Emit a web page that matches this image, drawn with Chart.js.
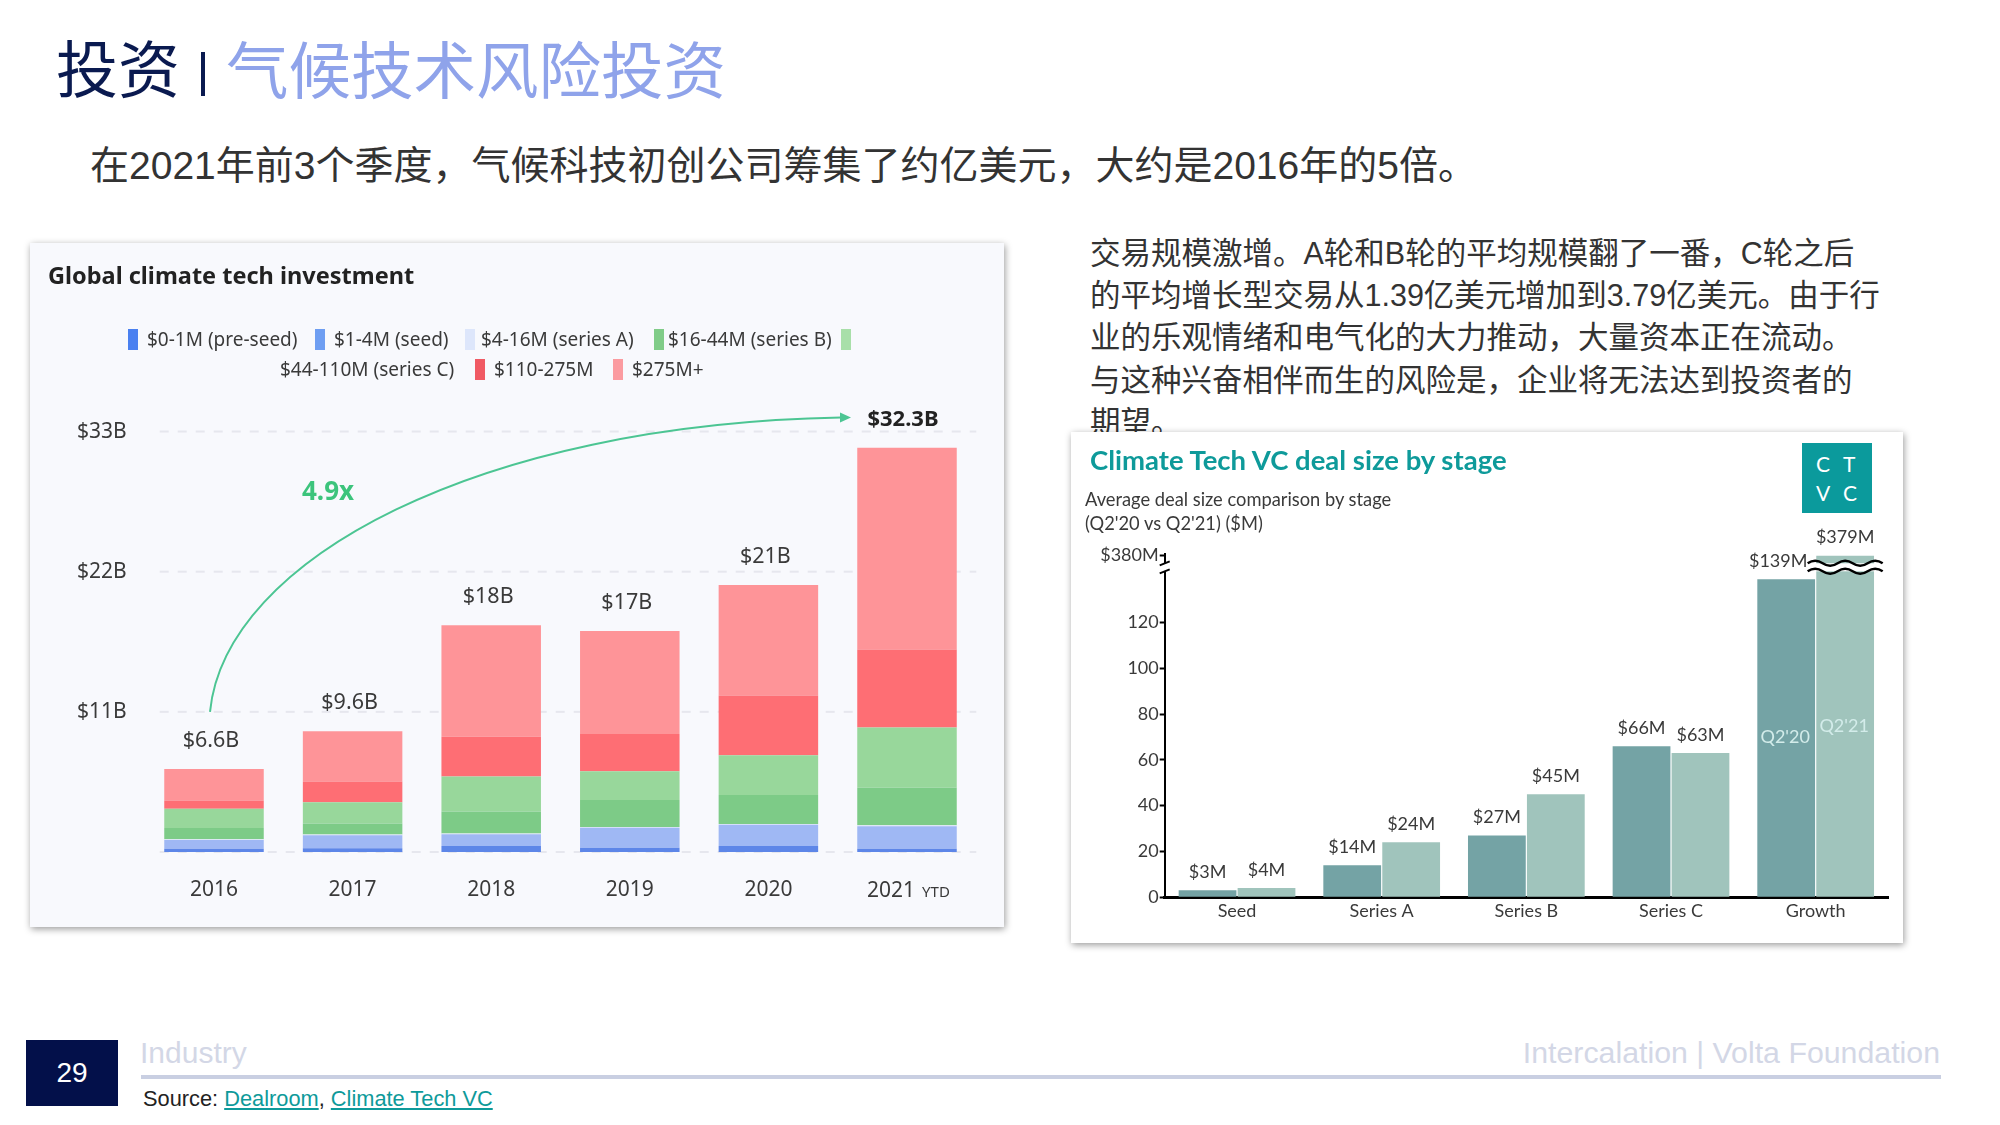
<!DOCTYPE html>
<html lang="zh">
<head>
<meta charset="utf-8">
<title>气候技术风险投资</title>
<script src="https://cdn.jsdelivr.net/npm/chart.js@4"></script>
<style>
  html, body { margin: 0; padding: 0; background: #fff; }
  body { position: relative; width: 2000px; height: 1125px; overflow: hidden; font-family: "Liberation Sans", "Noto Sans CJK SC", sans-serif; }
  .abs { position: absolute; white-space: nowrap; line-height: 1; }
  canvas { position: absolute; left: 0; top: 0; }
  #panelLeft, #panelRight { position: absolute; box-shadow: 1px 2px 7px rgba(0, 0, 0, .4); }
  #panelLeft { left: 30px; top: 243px; width: 974px; height: 684px; background: #f8f9fd; font-family: "Noto Sans", sans-serif; color: #3a3a3a; }
  #panelRight { left: 1071px; top: 432px; width: 832px; height: 511px; background: #fff; font-family: Lato, sans-serif; color: #3a3a3a; }
  .swatch { position: absolute; width: 10px; height: 21px; }
  .legendText { font-size: 19px; }
  #logo { position: absolute; left: 731px; top: 11px; width: 70px; height: 70px; background: #0b9a9c; color: #fff; font-size: 21px; }
  #sideText div { height: 42.2px; line-height: 42.2px; }
</style>
</head>
<body>
  <div class="abs" style="left:56px;top:41px;font-size:62px;color:#0a1a50">投资</div>
  <div class="abs" style="left:201px;top:52px;width:4px;height:44px;background:#0a1a50"></div>
  <div class="abs" style="left:226px;top:41px;font-size:62.5px;color:#8fa3ea">气候技术风险投资</div>
  <div class="abs" style="left:90px;top:146px;font-size:39px;color:#333">在2021年前3个季度，气候科技初创公司筹集了约亿美元，大约是2016年的5倍。</div>

  <div id="sideText" class="abs" style="left:1090px;top:232px;font-size:30.5px;color:#333">
    <div>交易规模激增。A轮和B轮的平均规模翻了一番，C轮之后</div>
    <div>的平均增长型交易从1.39亿美元增加到3.79亿美元。由于行</div>
    <div>业的乐观情绪和电气化的大力推动，大量资本正在流动。</div>
    <div>与这种兴奋相伴而生的风险是，企业将无法达到投资者的</div>
    <div>期望。</div>
  </div>

  <div id="panelLeft">
    <canvas id="investChart" width="974" height="684"></canvas>
    <div class="abs" style="left:18px;top:21px;font-size:23.5px;font-weight:700;color:#222">Global climate tech investment</div>
    <div id="legendBox"></div>
  </div>

  <div id="panelRight">
    <canvas id="dealChart" width="832" height="511"></canvas>
    <div class="abs" style="left:19px;top:14px;font-size:27.5px;font-weight:700;color:#0e9a9a">Climate Tech VC deal size by stage</div>
    <div class="abs" style="left:14px;top:58px;font-size:18.3px">Average deal size comparison by stage</div>
    <div class="abs" style="left:14px;top:82px;font-size:18.3px">(Q2'20 vs Q2'21) ($M)</div>
    <div id="logo">
      <span class="abs" style="left:14px;top:10px">C</span><span class="abs" style="left:41px;top:10px">T</span>
      <span class="abs" style="left:14px;top:39px">V</span><span class="abs" style="left:41px;top:39px">C</span>
    </div>
  </div>

  <div class="abs" style="left:26px;top:1040px;width:92px;height:66px;background:#03104a;color:#fff;font-size:28px;line-height:66px;text-align:center">29</div>
  <div class="abs" style="left:140px;top:1038px;font-size:30px;color:#d3d7e6">Industry</div>
  <div class="abs" style="right:60px;top:1038px;font-size:30.3px;color:#d3d7e6">Intercalation | Volta Foundation</div>
  <div class="abs" style="left:141px;top:1075px;width:1800px;height:4px;background:#c9cfe2"></div>
  <div class="abs" style="left:143px;top:1088px;font-size:21.8px;color:#222">Source: <span style="color:#0e9a9a;text-decoration:underline">Dealroom</span>, <span style="color:#0e9a9a;text-decoration:underline">Climate Tech VC</span></div>

<script>
// Left chart: yearly investment by round size, $B
const years = ['2016', '2017', '2018', '2019', '2020', '2021'];
const totalLabels = ['$6.6B', '$9.6B', '$18B', '$17B', '$21B', '$32.3B'];
const yearTicks = [11, 22, 33];
const preSeed = [0.25, 0.29, 0.47, 0.33, 0.47, 0.25];
const seed = [0.70, 1.02, 0.92, 1.57, 1.67, 1.78];
const seriesA = [0.06, 0.06, 0.06, 0.06, 0.06, 0.06];
const seriesB = [0.87, 0.87, 1.73, 2.13, 2.28, 2.96];
const seriesC = [1.52, 1.66, 2.75, 2.24, 3.11, 4.73];
const series110 = [0.65, 1.63, 3.11, 2.93, 4.70, 6.11];
const series275 = [2.46, 3.94, 8.75, 8.09, 8.67, 15.83];

// Right chart: average deal size by stage, $M
const stages = ['Seed', 'Series A', 'Series B', 'Series C', 'Growth'];
const q220 = [3, 14, 27, 66, 139];
const q221 = [4, 24, 45, 63, 379];
const dealTicks = [0, 20, 40, 60, 80, 100, 120, 380];

const barCols = ['#5d86e8', '#9fb8f4', '#dfe7fb', '#7dcb87', '#98d79b', '#fe6e74', '#fe9498'];
const legendCols = ['#4a80f0', '#6e9ef2', '#dde6fb', '#80cc88', '#a8dfa9', '#f05a64', '#fb9ba0'];

Chart.defaults.animation = false;
Chart.defaults.plugins.legend.display = false;

// Legend of the left chart; the fifth swatch wraps away from its label like in the original
const legendItems = [
    [legendCols[0], 98, 97, '$0-1M (pre-seed)', 117, 97],
    [legendCols[1], 285, 97, '$1-4M (seed)', 304, 97],
    [legendCols[2], 435, 97, '$4-16M (series A)', 451, 97],
    [legendCols[3], 624, 97, '$16-44M (series B)', 638, 97],
    [legendCols[4], 811, 97, '$44-110M (series C)', 250, 127],
    [legendCols[5], 445, 127, '$110-275M', 464, 127],
    [legendCols[6], 583, 127, '$275M+', 602, 127]
];
const legendBox = document.getElementById('legendBox');
legendItems.forEach(item => {
    const sw = document.createElement('div');
    sw.className = 'swatch';
    sw.style.cssText = `left:${item[1]}px;top:${item[2] - 11}px;background:${item[0]}`;
    legendBox.appendChild(sw);
    const tx = document.createElement('div');
    tx.className = 'abs legendText';
    tx.textContent = item[3];
    tx.style.cssText = `left:${item[4]}px;top:${item[5] - 10}px`;
    legendBox.appendChild(tx);
});

// Dashed grid starts a bit right of the plot edge, so it is drawn here
const investGrid = {
    id: 'investGrid',
    beforeDatasetsDraw(chart) {
        const { ctx, scales: { x, y } } = chart;
        ctx.save();
        ctx.strokeStyle = '#e6e7ee';
        ctx.lineWidth = 2;
        ctx.setLineDash([9, 9]);
        [0].concat(yearTicks).forEach(v => {
            ctx.beginPath();
            ctx.moveTo(x.left + 15, y.getPixelForValue(v));
            ctx.lineTo(x.right, y.getPixelForValue(v));
            ctx.stroke();
        });
        ctx.restore();
    }
};

// Totals, growth arrow and the composite "2021 YTD" label
const investOverlay = {
    id: 'investOverlay',
    afterDatasetsDraw(chart) {
        const { ctx, scales: { x, y } } = chart;
        const tops = years.map((_, i) => chart.data.datasets.reduce((sum, ds) => sum + ds.data[i], 0));
        ctx.save();
        ctx.textAlign = 'center';
        ctx.textBaseline = 'middle';
        totalLabels.forEach((label, i) => {
            const last = i === totalLabels.length - 1;
            ctx.font = last ? '700 22px "Noto Sans"' : '21.5px "Noto Sans"';
            ctx.fillStyle = last ? '#222' : '#3a3a3a';
            ctx.fillText(label, x.getPixelForValue(i) - (last ? 4 : 3), y.getPixelForValue(tops[i]) - 28);
        });

        const sx = x.getPixelForValue(0) - 4, sy = y.getPixelForValue(11);
        const ex = x.getPixelForValue(5) - 60, ey = y.getPixelForValue(34.1);
        ctx.strokeStyle = '#4cc593';
        ctx.fillStyle = '#4cc593';
        ctx.lineWidth = 2;
        ctx.beginPath();
        ctx.moveTo(sx, sy);
        ctx.bezierCurveTo(sx + 15, sy - 153, sx + 270, sy - 288, ex - 6, ey);
        ctx.stroke();
        ctx.beginPath();
        ctx.moveTo(ex + 4, ey);
        ctx.lineTo(ex - 7, ey - 5);
        ctx.lineTo(ex - 7, ey + 5);
        ctx.closePath();
        ctx.fill();

        ctx.font = '700 26px "Noto Sans"';
        ctx.fillStyle = '#3cc47c';
        ctx.fillText('4.9x', x.getPixelForValue(0) + 114, y.getPixelForValue(28.2));

        const labelY = y.bottom + 39;
        ctx.fillStyle = '#3a3a3a';
        ctx.font = '21px "Noto Sans"';
        ctx.fillText(years[5], x.getPixelForValue(5) - 16, labelY);
        ctx.font = '15px "Noto Sans"';
        ctx.fillText('YTD', x.getPixelForValue(5) + 29, labelY + 2);
        ctx.restore();
    }
};

new Chart(document.getElementById('investChart'), {
    type: 'bar',
    data: {
        labels: years,
        datasets: [
            { label: '$0-1M (pre-seed)', data: preSeed },
            { label: '$1-4M (seed)', data: seed },
            { label: '$4-16M (series A)', data: seriesA },
            { label: '$16-44M (series B)', data: seriesB },
            { label: '$44-110M (series C)', data: seriesC },
            { label: '$110-275M', data: series110 },
            { label: '$275M+', data: series275 }
        ].map((ds, i) => ({ ...ds, backgroundColor: barCols[i], barPercentage: 0.718, categoryPercentage: 1 }))
    },
    options: {
        responsive: false,
        layout: { padding: { top: 150.3, right: 27.7, left: 0, bottom: 0 } },
        scales: {
            x: {
                stacked: true,
                grid: { display: false },
                border: { display: false },
                afterFit(scale) { scale.height = 75; },
                ticks: {
                    maxRotation: 0,
                    padding: 17,
                    color: '#3a3a3a',
                    font: { family: '"Noto Sans"', size: 21 },
                    callback(value, index) { return index === 5 ? '' : years[index]; }
                }
            },
            y: {
                stacked: true,
                min: 0,
                max: 36,
                afterBuildTicks(scale) { scale.ticks = [0].concat(yearTicks).map(v => ({ value: v })); },
                afterFit(scale) { scale.width = 114.7; },
                border: { display: false },
                grid: { display: false, drawTicks: false },
                ticks: {
                    padding: 18,
                    color: '#3a3a3a',
                    font: { family: '"Noto Sans"', size: 21 },
                    callback(value) { return value === 0 ? '' : '$' + value + 'B'; }
                }
            }
        }
    },
    plugins: [investGrid, investOverlay]
});

// Everything above the axis break is squeezed into a short stretch
const BREAK_AT = 142;
function foldValue(v) {
    return v <= BREAK_AT ? v : BREAK_AT + (v - BREAK_AT) * 7.3 / 238;
}
class BrokenScale extends Chart.LinearScale {
    static id = 'broken';
    static defaults = Chart.LinearScale.defaults;
    getPixelForValue(value, index) {
        return super.getPixelForValue(foldValue(value), index);
    }
}
Chart.register(BrokenScale);

function wave(ctx, x0, x1, y) {
    const step = 15;
    ctx.beginPath();
    ctx.moveTo(x0, y);
    let up = true;
    for (let px = x0; px < x1; px += step) {
        ctx.quadraticCurveTo(px + step / 2, y + (up ? -5 : 5), px + step, y);
        up = !up;
    }
    ctx.stroke();
}

const dealOverlay = {
    id: 'dealOverlay',
    afterDatasetsDraw(chart) {
        const { ctx, scales: { x, y } } = chart;
        const meta = [chart.getDatasetMeta(0), chart.getDatasetMeta(1)];
        const lowY = y.getPixelForValue(BREAK_AT);
        ctx.save();

        // axis break
        ctx.fillStyle = '#fff';
        ctx.fillRect(x.left - 5, lowY - 9, 10, 8);
        ctx.strokeStyle = '#000';
        ctx.lineWidth = 2;
        [lowY - 1, lowY - 9].forEach(py => {
            ctx.beginPath();
            ctx.moveTo(x.left - 5, py + 2);
            ctx.lineTo(x.left + 5, py - 2);
            ctx.stroke();
        });

        // wavy break across the growth bars
        const x0 = x.getPixelForValue(4) - 8, x1 = x.getPixelForValue(4) + 60;
        ctx.fillStyle = '#fff';
        ctx.fillRect(x0, lowY - 9, x1 - x0, 8);
        ctx.lineWidth = 2.5;
        wave(ctx, x0, x1, lowY - 9);
        wave(ctx, x0, x1, lowY - 1);

        // value labels
        ctx.font = '18px Lato';
        ctx.textAlign = 'center';
        ctx.textBaseline = 'middle';
        ctx.fillStyle = '#3a3a3a';
        [q220, q221].forEach((values, s) => {
            values.forEach((v, i) => {
                const bar = meta[s].data[i];
                const shift = (s === 0 && i === 4) ? -8 : 0;
                ctx.fillText('$' + v + 'M', bar.x + shift, bar.y - 18);
            });
        });

        // series names inside the growth bars
        ctx.fillStyle = '#d3ecea';
        ctx.fillText("Q2'20", meta[0].data[4].x - 1, y.getPixelForValue(70));
        ctx.fillText("Q2'21", meta[1].data[4].x - 1, y.getPixelForValue(74.7));
        ctx.restore();
    }
};

new Chart(document.getElementById('dealChart'), {
    type: 'bar',
    data: {
        labels: stages,
        datasets: [
            { label: "Q2'20", data: q220, backgroundColor: '#74a3a5', barPercentage: 0.98, categoryPercentage: 0.815 },
            { label: "Q2'21", data: q221, backgroundColor: '#a0c4bc', barPercentage: 0.98, categoryPercentage: 0.815 }
        ]
    },
    options: {
        responsive: false,
        layout: { padding: { top: 122, right: 15, left: 0, bottom: 0 } },
        scales: {
            x: {
                grid: { display: false, drawTicks: false },
                border: { color: '#000', width: 3 },
                afterFit(scale) { scale.height = 45.8; },
                ticks: {
                    maxRotation: 0,
                    padding: 3,
                    color: '#3a3a3a',
                    font: { family: 'Lato', size: 18 }
                }
            },
            y: {
                type: 'broken',
                min: 0,
                max: 150,
                afterBuildTicks(scale) { scale.ticks = dealTicks.map(v => ({ value: v })); },
                afterFit(scale) { scale.width = 93.7; },
                border: { color: '#000', width: 2 },
                grid: { drawOnChartArea: false, color: '#000', tickLength: 5, tickWidth: 2 },
                ticks: {
                    padding: 1,
                    color: '#3a3a3a',
                    font: { family: 'Lato', size: 18 },
                    callback(value) { return value === 380 ? '$380M' : value; }
                }
            }
        }
    },
    plugins: [dealOverlay]
});
</script>
</body>
</html>
